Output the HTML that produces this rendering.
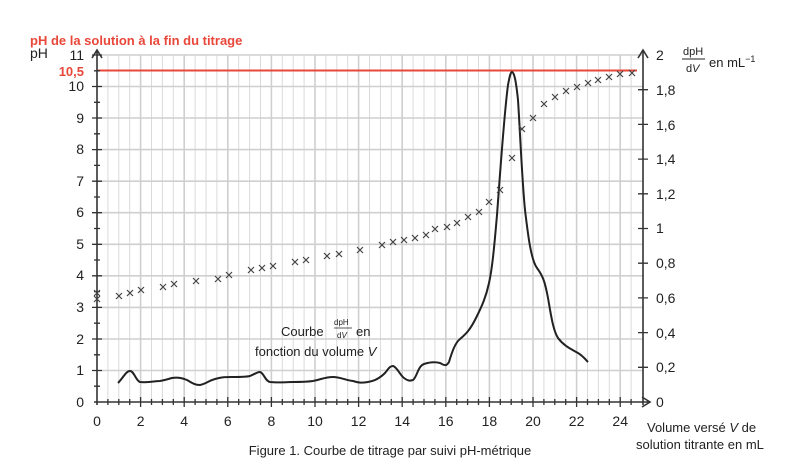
<!DOCTYPE html>
<html><head><meta charset="utf-8"><style>
body{margin:0;background:#fff;}
svg{display:block;font-family:"Liberation Sans",Arial,sans-serif;}
</style></head><body>
<svg width="800" height="471" viewBox="0 0 800 471">
<defs><path id="c" d="M-3-3L3 3M-3 3L3-3" stroke="#444" stroke-width="1.2" fill="none"/></defs>
<g stroke="#dadada" stroke-width="1">
<path d="M107.9 55V402M118.8 55V402M129.7 55V402M151.5 55V402M162.4 55V402M173.3 55V402M195.1 55V402M206 55V402M216.9 55V402M238.7 55V402M249.6 55V402M260.5 55V402M282.3 55V402M293.2 55V402M304.1 55V402M325.9 55V402M336.8 55V402M347.7 55V402M369.5 55V402M380.4 55V402M391.3 55V402M413.1 55V402M424 55V402M434.9 55V402M456.7 55V402M467.6 55V402M478.5 55V402M500.3 55V402M511.2 55V402M522.1 55V402M543.9 55V402M554.8 55V402M565.7 55V402M587.5 55V402M598.4 55V402M609.3 55V402M631.1 55V402"/>
</g>
<g stroke="#cfcfcf" stroke-width="1.6">
<path d="M140.6 55V402M184.2 55V402M227.8 55V402M271.4 55V402M315 55V402M358.6 55V402M402.2 55V402M445.8 55V402M489.4 55V402M533 55V402M576.6 55V402M620.2 55V402"/>
<path d="M97 55H643M97 86.5H643M97 118H643M97 149.6H643M97 181.2H643M97 212.7H643M97 244.3H643M97 275.8H643M97 307.4H643M97 339H643M97 370.5H643"/>
</g>
<line x1="97" y1="70.5" x2="637" y2="70.5" stroke="#e8473a" stroke-width="2"/>
<g stroke="#333" stroke-width="1.6" fill="none">
<path d="M97 405V50M92 58L97 50L102 58"/>
<path d="M643 405V50M638 58L643 50L648 58"/>
<path d="M94 402H650M642 397L650 402L642 407"/>
</g>
<g stroke="#333" stroke-width="1.3">
<path d="M92 55H102M92 86.5H102M92 118H102M92 149.6H102M92 181.2H102M92 212.7H102M92 244.3H102M92 275.8H102M92 307.4H102M92 339H102M92 370.5H102"/>
<path d="M94 70.8H100M94 102.3H100M94 133.8H100M94 165.4H100M94 197H100M94 228.5H100M94 260H100M94 291.6H100M94 323.2H100M94 354.8H100M94 386.2H100"/>
<path d="M638 89.7H648M638 124.4H648M638 159.1H648M638 193.8H648M638 228.5H648M638 263.2H648M638 297.9H648M638 332.6H648M638 367.3H648"/>
<path d="M140.6 397V407M184.2 397V407M227.8 397V407M271.4 397V407M315 397V407M358.6 397V407M402.2 397V407M445.8 397V407M489.4 397V407M533 397V407M576.6 397V407M620.2 397V407"/>
<path d="M107.9 399V405M118.8 399V405M129.7 399V405M151.5 399V405M162.4 399V405M173.3 399V405M195.1 399V405M206 399V405M216.9 399V405M238.7 399V405M249.6 399V405M260.5 399V405M282.3 399V405M293.2 399V405M304.1 399V405M325.9 399V405M336.8 399V405M347.7 399V405M369.5 399V405M380.4 399V405M391.3 399V405M413.1 399V405M424 399V405M434.9 399V405M456.7 399V405M467.6 399V405M478.5 399V405M500.3 399V405M511.2 399V405M522.1 399V405M543.9 399V405M554.8 399V405M565.7 399V405M587.5 399V405M598.4 399V405M609.3 399V405M631.1 399V405"/>
</g>
<g font-size="14" fill="#222" text-anchor="end">
<text x="84" y="60">11</text><text x="84" y="91">10</text><text x="84" y="123">9</text><text x="84" y="154">8</text><text x="84" y="186">7</text><text x="84" y="217">6</text><text x="84" y="249">5</text><text x="84" y="280">4</text><text x="84" y="312">3</text><text x="84" y="344">2</text><text x="84" y="375">1</text><text x="84" y="407">0</text>
</g>
<text x="84" y="76" font-size="13" font-weight="bold" fill="#e8473a" text-anchor="end">10,5</text>
<text x="30" y="58" font-size="14" fill="#222">pH</text>
<text x="30" y="45" font-size="13" font-weight="bold" fill="#e8473a">pH de la solution à la fin du titrage</text>
<g font-size="14" fill="#222">
<text x="656" y="60">2</text><text x="656" y="95">1,8</text><text x="656" y="130">1,6</text><text x="656" y="164">1,4</text><text x="656" y="199">1,2</text><text x="656" y="233">1</text><text x="656" y="268">0,8</text><text x="656" y="303">0,6</text><text x="656" y="338">0,4</text><text x="656" y="372">0,2</text><text x="656" y="407">0</text>
</g>
<text x="683" y="55" font-size="11" fill="#222">dpH</text>
<line x1="682" y1="59" x2="705" y2="59" stroke="#222" stroke-width="1"/>
<text x="686" y="72" font-size="11" fill="#222">d<tspan font-style="italic">V</tspan></text>
<text x="709" y="67" font-size="13" fill="#222">en mL<tspan font-size="9" dy="-5">−1</tspan></text>
<g font-size="14" fill="#222" text-anchor="middle">
<text x="97" y="426">0</text><text x="140.6" y="426">2</text><text x="184.2" y="426">4</text><text x="227.8" y="426">6</text><text x="271.4" y="426">8</text><text x="315" y="426">10</text><text x="358.6" y="426">12</text><text x="402.2" y="426">14</text><text x="445.8" y="426">16</text><text x="489.4" y="426">18</text><text x="533" y="426">20</text><text x="576.6" y="426">22</text><text x="620.2" y="426">24</text>
</g>
<text x="647" y="432" font-size="13" fill="#222">Volume versé <tspan font-style="italic">V</tspan> de</text>
<text x="636" y="449" font-size="13" fill="#222">solution titrante en mL</text>
<text x="390" y="455" font-size="13" fill="#222" text-anchor="middle">Figure 1. Courbe de titrage par suivi pH-métrique</text>
<text x="281" y="336" font-size="13" fill="#222">Courbe</text>
<text x="334" y="325" font-size="8" fill="#222">dpH</text>
<line x1="334" y1="328" x2="352" y2="328" stroke="#222" stroke-width="0.8"/>
<text x="337" y="338" font-size="8" fill="#222">d<tspan font-style="italic">V</tspan></text>
<text x="356" y="336" font-size="13" fill="#222">en</text>
<text x="255" y="356" font-size="13" fill="#222">fonction du volume <tspan font-style="italic">V</tspan></text>
<path fill="none" stroke="#222" stroke-width="2" stroke-linejoin="round" d="M118 383C123 378 126 371 130 371C134 371 136 381 140 382C148 383 155 381 160 381C166 380 168 379 172 378C178 377 182 378 187 380C192 383 195 385 200 385C206 384 208 381 215 379C222 377 225 377 232 377C240 377 246 377 250 376C255 374 257 372 260 372C264 373 265 381 270 382C278 383 286 382 293 382C300 382 306 382 313 381C322 379 326 377 333 377C340 377 345 380 353 381C359 383 362 383 368 382C375 381 380 378 385 373C389 368 390 366 393 366C397 367 400 375 404 378C408 381 410 381 413 380C417 377 418 366 424 364C430 362 436 362 440 363C444 365 446 367 449 362C452 352 455 343 460 339C466 334 470 330 476 318C482 306 486 297 489 283C492 270 494 250 497 215C500 175 504 115 508 85C510 74 511 72 512 72C514 72 516 80 518 100C520 130 522 180 525 210C528 235 531 260 537 268C543 276 545 282 548 298C551 315 553 330 558 338C564 346 571 349 578 353C583 356 586 360 588 362"/>
<g>
<use href="#c" x="97" y="299"/><use href="#c" x="97" y="293"/><use href="#c" x="119" y="296"/><use href="#c" x="130" y="293"/><use href="#c" x="141" y="290"/><use href="#c" x="163" y="287"/><use href="#c" x="174" y="284"/><use href="#c" x="196" y="281"/><use href="#c" x="218" y="279"/><use href="#c" x="229" y="275"/><use href="#c" x="251" y="270"/><use href="#c" x="262" y="268"/><use href="#c" x="273" y="266"/><use href="#c" x="295" y="262"/><use href="#c" x="306" y="260"/><use href="#c" x="327" y="256"/><use href="#c" x="339" y="254"/><use href="#c" x="360" y="250"/><use href="#c" x="382" y="245"/><use href="#c" x="393" y="242"/><use href="#c" x="404" y="240"/><use href="#c" x="415" y="238"/><use href="#c" x="426" y="235"/><use href="#c" x="435" y="229"/><use href="#c" x="447" y="227"/><use href="#c" x="457" y="223"/><use href="#c" x="468" y="217"/><use href="#c" x="479" y="212"/><use href="#c" x="489" y="202"/><use href="#c" x="500" y="190"/><use href="#c" x="512" y="158"/><use href="#c" x="522" y="129"/><use href="#c" x="533" y="118"/><use href="#c" x="544" y="104"/><use href="#c" x="555" y="97"/><use href="#c" x="566" y="91"/><use href="#c" x="577" y="87"/><use href="#c" x="588" y="83"/><use href="#c" x="598" y="80"/><use href="#c" x="609" y="77"/><use href="#c" x="620" y="74"/><use href="#c" x="632" y="73"/>
</g>
</svg>
</body></html>
